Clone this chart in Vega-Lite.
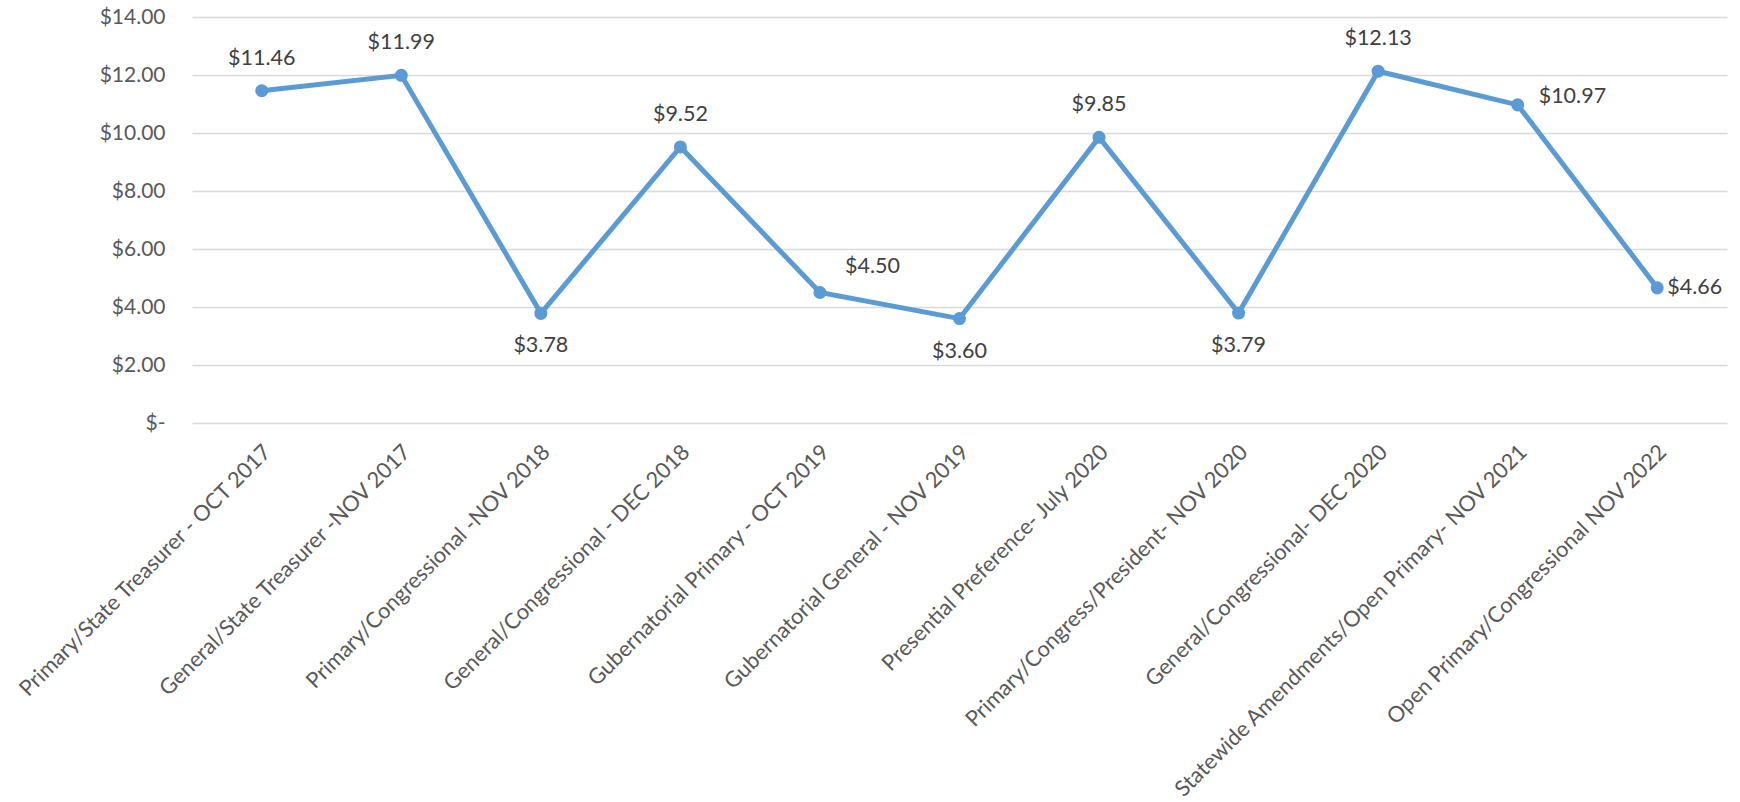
{
  "$schema": "https://vega.github.io/schema/vega-lite/v6.json",
  "autosize": {"type": "none"},
  "padding": {"left": 192, "top": 17, "right": 13, "bottom": 379},
  "width": 1535,
  "height": 406,
  "background": "white",
  "config": {
    "view": {"stroke": null},
    "font": "Lato",
    "axis": {"labelFont": "Lato", "labelFontSize": 21, "labelColor": "#595959"}
  },
  "data": {
    "values": [
      {"election": "Primary/State Treasurer - OCT 2017", "cost": 11.46},
      {"election": "General/State Treasurer -NOV 2017", "cost": 11.99},
      {"election": "Primary/Congressional -NOV 2018", "cost": 3.78},
      {"election": "General/Congressional - DEC 2018", "cost": 9.52},
      {"election": "Gubernatorial Primary - OCT 2019", "cost": 4.50},
      {"election": "Gubernatorial General - NOV 2019", "cost": 3.60},
      {"election": "Presential Preference- July 2020", "cost": 9.85},
      {"election": "Primary/Congress/President- NOV 2020", "cost": 3.79},
      {"election": "General/Congressional- DEC 2020", "cost": 12.13},
      {"election": "Statewide Amendments/Open Primary- NOV 2021", "cost": 10.97},
      {"election": "Open Primary/Congressional NOV 2022", "cost": 4.66}
    ]
  },
  "encoding": {
    "x": {
      "field": "election",
      "type": "nominal",
      "sort": null,
      "scale": {"type": "point", "padding": 0.5},
      "axis": {
        "title": null,
        "labelAngle": -45,
        "labelAlign": "right",
        "labelBaseline": "middle",
        "labelFontSize": 21.8,
        "labelPadding": 25,
        "labelOffset": 5,
        "ticks": false,
        "domain": false,
        "grid": false,
        "labelOverlap": false,
        "labelLimit": 1000
      }
    },
    "y": {
      "field": "cost",
      "type": "quantitative",
      "scale": {"domain": [0, 14], "nice": false, "zero": true},
      "axis": {
        "title": null,
        "values": [0, 2, 4, 6, 8, 10, 12, 14],
        "labelExpr": "datum.value == 0 ? '$-\u00a0\u00a0\u00a0' : '$' + format(datum.value, '.2f')",
        "ticks": false,
        "domain": false,
        "grid": true,
        "gridColor": "#d9d9d9",
        "gridWidth": 1.5,
        "labelPadding": 27
      }
    }
  },
  "layer": [
    {"mark": {"type": "line", "color": "#5B9BD5", "strokeWidth": 5}},
    {"mark": {"type": "point", "shape": "circle", "filled": true, "opacity": 1, "color": "#5B9BD5", "size": 170}},
    {
      "transform": [{"filter": {"field": "election", "oneOf": ["Primary/State Treasurer - OCT 2017", "General/State Treasurer -NOV 2017", "General/Congressional - DEC 2018", "Presential Preference- July 2020", "General/Congressional- DEC 2020"]}}],
      "mark": {"type": "text", "fontSize": 21.5, "color": "#404040", "align": "center", "baseline": "middle", "dy": -32},
      "encoding": {"text": {"field": "cost", "type": "quantitative", "format": "$.2f"}}
    },
    {
      "transform": [{"filter": {"field": "election", "oneOf": ["Primary/Congressional -NOV 2018", "Gubernatorial General - NOV 2019", "Primary/Congress/President- NOV 2020"]}}],
      "mark": {"type": "text", "fontSize": 21.5, "color": "#404040", "align": "center", "baseline": "middle", "dy": 33},
      "encoding": {"text": {"field": "cost", "type": "quantitative", "format": "$.2f"}}
    },
    {
      "transform": [{"filter": {"field": "election", "equal": "Gubernatorial Primary - OCT 2019"}}],
      "mark": {"type": "text", "fontSize": 21.5, "color": "#404040", "align": "left", "baseline": "middle", "dx": 25, "dy": -26},
      "encoding": {"text": {"field": "cost", "type": "quantitative", "format": "$.2f"}}
    },
    {
      "transform": [{"filter": {"field": "election", "equal": "Statewide Amendments/Open Primary- NOV 2021"}}],
      "mark": {"type": "text", "fontSize": 21.5, "color": "#404040", "align": "left", "baseline": "middle", "dx": 21, "dy": -8},
      "encoding": {"text": {"field": "cost", "type": "quantitative", "format": "$.2f"}}
    },
    {
      "transform": [{"filter": {"field": "election", "equal": "Open Primary/Congressional NOV 2022"}}],
      "mark": {"type": "text", "fontSize": 21.5, "color": "#404040", "align": "left", "baseline": "middle", "dx": 10, "dy": 0},
      "encoding": {"text": {"field": "cost", "type": "quantitative", "format": "$.2f"}}
    }
  ]
}
